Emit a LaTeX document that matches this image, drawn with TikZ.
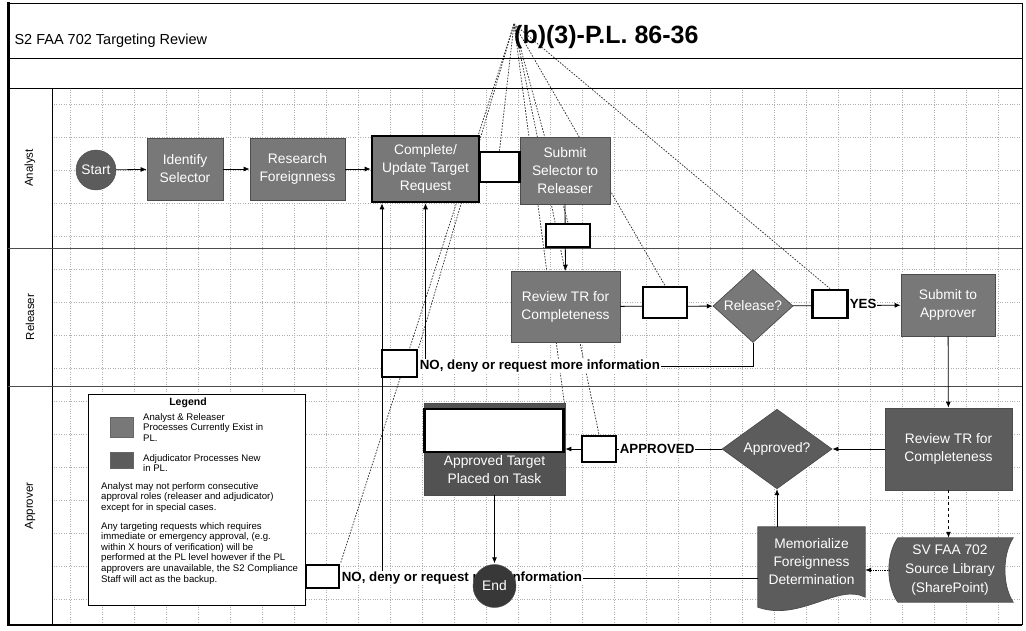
\documentclass[tikz,border=0pt]{standalone}
\usepackage{fontspec}
\setmainfont{Liberation Sans}
\usetikzlibrary{shapes.geometric,arrows.meta,calc}
\definecolor{procG}{RGB}{120,120,120}
\definecolor{adjG}{RGB}{92,92,92}
\definecolor{gridG}{RGB}{175,175,175}
\pgfdeclarelayer{bg}
\pgfdeclarelayer{mid}
\pgfsetlayers{bg,mid,main}
\begin{document}
\begin{tikzpicture}[x=1pt,y=-1pt,
  boxfont/.style={font=\fontsize{13.8}{18}\selectfont},
  proc/.style={rectangle,draw=black!70,line width=0.7pt,fill=procG,text=white,align=center,inner sep=1pt,boxfont},
  adj/.style={proc,fill=adjG},
  wbox/.style={rectangle,draw=black,line width=2.8pt,fill=white,inner sep=0pt},
  lbl/.style={fill=white,inner sep=0.6pt,anchor=west,font=\bfseries\fontsize{13.3}{15}\selectfont},
  arr/.style={-{Latex[length=6pt,width=5pt]},line width=0.8pt},
  flow/.style={line width=0.8pt},
  fan/.style={black!80,dash pattern=on 1.6pt off 1.4pt,line width=0.75pt},
  frame/.style={line width=0.8pt},
  legtxt/.style={anchor=north west,inner sep=0pt,align=left,font=\fontsize{9.6}{10.6}\selectfont},
  lane/.style={rotate=90,font=\fontsize{11.5}{13}\selectfont}
]
\useasboundingbox (0,0) rectangle (1026,630);

% ---------- background grid ----------
\begin{pgfonlayer}{bg}
  \foreach \gx in {70,102,...,1020} {\draw[gridG,dotted,line width=0.45pt] (\gx,90) -- (\gx,623);}
  \foreach \gy in {104,137,...,620} {\draw[gridG,dotted,line width=0.45pt] (54,\gy) -- (1020,\gy);}
\end{pgfonlayer}

% ---------- frame and swimlanes ----------
\draw[frame] (8,3) -- (1022,3);
\draw[line width=3pt] (8,2) -- (8,626);
\draw[line width=2.5pt] (8,625) -- (1022,625);
\draw[frame] (1022,3) -- (1022,625);
\draw[frame] (8,58) -- (1022,58);
\draw[frame] (8,88) -- (1022,88);
\draw[frame] (52,88) -- (52,625);
\draw[frame,black!70] (8,248) -- (1022,248);
\draw[frame,black!70] (8,386) -- (1022,386);

\node[anchor=west,font=\fontsize{14.5}{16}\selectfont] (title) at (11,41) {S2 FAA 702 Targeting Review};
\node[anchor=west,inner sep=0pt,font=\bfseries\fontsize{25}{27}\selectfont] (class) at (514,37) {(b)(3)-P.L. 86-36};
\coordinate (apex) at (514,24);

\node[lane] (laneA) at (30,168) {Analyst};
\node[lane] (laneR) at (30,317) {Releaser};
\node[lane] (laneP) at (30,506) {Approver};

% ---------- Analyst lane ----------
\node[circle,draw=black!70,fill=adjG,text=white,minimum size=40pt,inner sep=0pt,boxfont] (start) at (96,170) {Start};
\node[proc,minimum width=76pt,minimum height=62pt] (identify) at (185,169) {Identify\\Selector};
\node[proc,minimum width=95pt,minimum height=62pt] (research) at (297.5,169) {Research\\Foreignness};
\node[proc,draw=black,line width=2.6pt,minimum width=107pt,minimum height=66pt] (complete) at (425.5,169) {Complete/\\Update Target\\Request};
\node[proc,minimum width=90pt,minimum height=67pt] (submit) at (565,170.5) {Submit\\Selector to\\Releaser};

% ---------- Releaser lane ----------
\node[proc,minimum width=109pt,minimum height=71pt] (reviewR) at (565.5,306.5) {Review TR for\\Completeness};
\node[diamond,draw=black!70,line width=0.7pt,fill=procG,text=white,minimum width=80pt,minimum height=73pt,inner sep=0pt,boxfont] (release) at (753,306) {Release?};
\node[proc,minimum width=94pt,minimum height=62pt] (submitA) at (948,305) {Submit to\\Approver};

% ---------- Approver lane ----------
\node[adj,minimum width=127pt,minimum height=82pt] (reviewA) at (948.5,449) {Review TR for\\Completeness};
\node[diamond,draw=black!70,line width=0.7pt,fill=adjG,text=white,minimum width=110pt,minimum height=77pt,inner sep=0pt,boxfont] (apd) at (777,449) {Approved?};
\node[adj,fill=black!68,minimum width=141pt,minimum height=92pt] (approvedT) at (494.5,449) {};
\node[text=white,align=center,boxfont] (approvedTxt) at (494.5,470) {Approved Target\\Placed on Task};

% stored data shape
\node[rectangle,minimum width=123pt,minimum height=64pt,inner sep=0pt] (source) at (951.5,570) {};
\fill[adjG,draw=black!70,line width=0.7pt] ($(source.north west)+(8,0)$) -- (source.north east)
   .. controls +(-11,17) and +(-11,-17) .. (source.south east)
   -- ($(source.south west)+(8,0)$)
   .. controls +(-12,-17) and +(-12,17) .. ($(source.north west)+(8,0)$) -- cycle;
\node[text=white,align=center,font=\fontsize{13.8}{19}\selectfont] (sourceTxt) at (950,570) {SV FAA 702\\Source Library\\(SharePoint)};

% document shape
\node[rectangle,minimum width=107pt,minimum height=73pt,inner sep=0pt] (memo) at (811.5,563.5) {};
\fill[adjG,draw=black!70,line width=0.7pt] (memo.north west) -- (memo.north east) -- ($(memo.south east)+(0,-3)$)
   .. controls (838,583) and (800,622) .. ($(memo.south west)+(0,7)$) -- cycle;
\node[text=white,align=center,boxfont] (memoTxt) at (811.5,562) {Memorialize\\Foreignness\\Determination};

% ---------- legend ----------
\node[rectangle,draw=black,line width=0.8pt,fill=white,minimum width=217pt,minimum height=211pt,inner sep=0pt] (legend) at (196.5,499.5) {};
\node[font=\bfseries\fontsize{10.5}{12}\selectfont,inner sep=0pt] (legTitle) at (188,403) {Legend};
\node[rectangle,draw=black!60,fill=procG,minimum width=23pt,minimum height=20pt,inner sep=0pt] (legSq1) at (121.5,427) {};
\node[rectangle,draw=black!60,fill=adjG,minimum width=23pt,minimum height=16pt,inner sep=0pt] (legSq2) at (121.5,460.5) {};
\node[legtxt] (legT1) at (143,413) {Analyst \& Releaser\\Processes Currently Exist in\\PL.};
\node[legtxt] (legT2) at (143,454) {Adjudicator Processes New\\in PL.};
\node[legtxt] (legT3) at (101,482) {Analyst may not perform consecutive\\approval roles (releaser and adjudicator)\\except for in special cases.};
\node[legtxt] (legT4) at (101,522) {Any targeting requests which requires\\immediate or emergency approval, (e.g.\\within X hours of verification) will be\\performed at the PL level however if the PL\\approvers are unavailable, the S2 Compliance\\Staff will act as the backup.};

% ---------- connectors ----------
\coordinate (no1turn) at (425.5,366);
\coordinate (no2turn) at (382,578);
\draw[arr] (start) -- (identify);
\draw[arr] (identify) -- (research);
\draw[arr] (research) -- (complete);
\draw[flow] (complete.east) -- (submit.west);
\draw[arr] (submit.south) -- (reviewR.north);
\draw[arr] (reviewR) -- (release);
\draw[arr] (release) -- (submitA);
\draw[arr] (release.south) |- (no1turn) -- (complete.south);
\draw[arr] (submitA) -- (reviewA);
\draw[arr] (reviewA) -- (apd);
\draw[arr] (apd) -- (approvedT);
\draw[arr] (approvedT.south) -- +(0,68);
\draw[arr,dashed,line width=1.2pt] (reviewA.south) -- (source.north -| reviewA.south);
\draw[arr,densely dotted] (source.west) -- (memo.east |- source.west);
\draw[arr] (apd.south |- memo.north) -- (apd.south);
\draw[arr] ($(memo.west)+(0,14.5)$) -- (no2turn) -- (no2turn |- complete.south);

% ---------- labels ----------
\node[lbl] (noLbl1) at (419,366) {NO, deny or request more information};
\node[lbl] (yesLbl) at (849,304) {YES};
\node[lbl] (apLbl) at (619,449) {APPROVED};
\node[lbl] (noLbl2) at (341,578) {NO, deny or request more information};
\node[circle,draw=black!70,fill=black!78,text=white,minimum size=43pt,inner sep=0pt,boxfont] (end) at (494.5,586) {End};

% ---------- redaction boxes ----------
\node[wbox,minimum width=40pt,minimum height=30pt] (wb1) at (499.5,167) {};
\node[wbox,minimum width=44pt,minimum height=23pt] (wb2) at (568,235.5) {};
\node[wbox,minimum width=44pt,minimum height=31pt] (wb3) at (665,302.5) {};
\node[wbox,minimum width=35pt,minimum height=28pt] (wb4) at (830,304) {};
\node[wbox,minimum width=35pt,minimum height=27pt] (wb5) at (399.5,363.5) {};
\node[wbox,minimum width=139pt,minimum height=43pt] (wb6) at (494,430.5) {};
\node[wbox,minimum width=34pt,minimum height=26pt] (wb7) at (599,449) {};
\node[wbox,minimum width=33pt,minimum height=23pt] (wb8) at (322.5,576.5) {};

% ---------- fan of dashed markers ----------
\begin{pgfonlayer}{mid}
  \draw[fan] (apex) -- (wb5.north east);
  \draw[fan] (apex) -- (wb8.north east);
  \draw[fan] (apex) -- (wb1.north);
  \draw[fan] (apex) -- (wb2.north);
  \draw[fan] (apex) -- (wb3.north);
  \draw[fan] (apex) -- (wb4.north);
  \draw[fan] (apex) -- (wb6.north east);
  \draw[fan] (apex) -- (wb7.north);
\end{pgfonlayer}
\end{tikzpicture}
\end{document}
